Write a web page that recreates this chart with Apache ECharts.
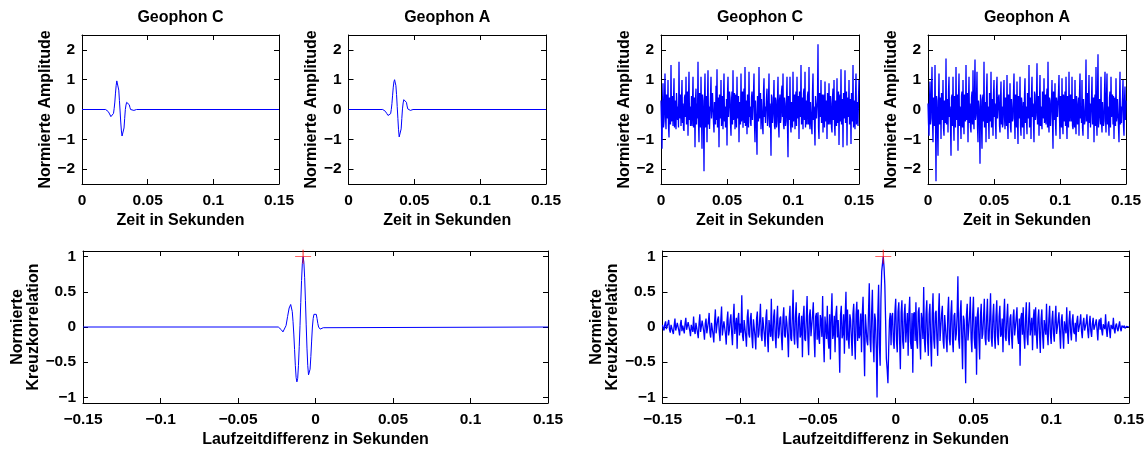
<!DOCTYPE html>
<html><head><meta charset="utf-8">
<script src="https://cdn.jsdelivr.net/npm/echarts@6/dist/echarts.min.js"></script>
<style>html,body{margin:0;padding:0;background:#fff}#c{width:1147px;height:451px}</style>
</head><body><div id="c"></div>
<script>
// ---------- data ----------
const titles = ['Geophon C', 'Geophon A', 'Geophon C', 'Geophon A'];
const timeName = 'Zeit in Sekunden';
const ampName = 'Normierte Amplitude';
const lagName = 'Laufzeitdifferenz in Sekunden';
const corrName = 'Normierte\nKreuzkorrelation';
const timeTicks = [0, 0.05, 0.1, 0.15];
const ampTicks = [-2, -1, 0, 1, 2];
const lagTicks = [-0.15, -0.1, -0.05, 0, 0.05, 0.1, 0.15];
const corrTicks = [-1, -0.5, 0, 0.5, 1];

// clean wavelets [time s, amplitude]
const cleanC = [[0,0],[0.018,0],[0.019,-0.02],[0.020,-0.07],[0.021,-0.15],[0.022,-0.24],[0.0228,-0.28],[0.0235,-0.24],[0.024,-0.13],[0.0245,0.04],[0.025,0.25],[0.0255,0.55],[0.026,0.8],[0.0265,0.96],[0.027,1.0],[0.0275,0.9],[0.028,0.65],[0.0285,0.3],[0.029,-0.05],[0.0295,-0.42],[0.030,-0.72],[0.0305,-0.89],[0.031,-0.92],[0.0315,-0.84],[0.032,-0.62],[0.0325,-0.3],[0.033,0.0],[0.0335,0.15],[0.034,0.24],[0.035,0.27],[0.0355,0.24],[0.036,0.16],[0.0365,0.07],[0.037,0.0],[0.0375,-0.03],[0.0385,-0.04],[0.0395,-0.03],[0.0405,-0.01],[0.0415,0],[0.15,0]];
const cleanA = [[0,0],[0.026,0],[0.027,-0.02],[0.028,-0.06],[0.029,-0.13],[0.030,-0.2],[0.031,-0.24],[0.0315,-0.22],[0.032,-0.14],[0.0325,0.0],[0.033,0.2],[0.0335,0.48],[0.034,0.75],[0.0345,0.93],[0.035,1.0],[0.0355,0.97],[0.036,0.8],[0.0365,0.5],[0.037,0.1],[0.0375,-0.3],[0.038,-0.68],[0.0385,-0.92],[0.039,-0.98],[0.0395,-0.9],[0.040,-0.65],[0.0405,-0.3],[0.041,0.02],[0.0415,0.22],[0.042,0.33],[0.043,0.37],[0.0435,0.33],[0.044,0.24],[0.0445,0.12],[0.045,0.02],[0.0455,-0.03],[0.046,-0.04],[0.047,-0.03],[0.048,-0.01],[0.049,0],[0.15,0]];
// clean cross-correlation [lag s, value]
const cleanCorr = [[-0.15,0],[-0.024,0],[-0.023,-0.01],[-0.022,-0.04],[-0.021,-0.07],[-0.0205,-0.08],[-0.020,-0.07],[-0.019,0.02],[-0.018,0.15],[-0.017,0.27],[-0.016,0.32],[-0.0155,0.3],[-0.015,0.22],[-0.0145,0.08],[-0.014,-0.1],[-0.0135,-0.32],[-0.013,-0.55],[-0.0125,-0.72],[-0.012,-0.78],[-0.0115,-0.73],[-0.011,-0.55],[-0.0105,-0.28],[-0.010,0.02],[-0.0095,0.35],[-0.009,0.66],[-0.0085,0.9],[-0.008,1.0],[-0.0075,0.92],[-0.007,0.7],[-0.0065,0.38],[-0.006,0.03],[-0.0055,-0.3],[-0.005,-0.55],[-0.0045,-0.68],[-0.004,-0.69],[-0.0035,-0.6],[-0.003,-0.42],[-0.0025,-0.2],[-0.002,0.0],[-0.0015,0.12],[-0.001,0.18],[0.0,0.2],[0.0005,0.18],[0.001,0.12],[0.0015,0.05],[0.002,0.0],[0.003,-0.03],[0.004,-0.03],[0.005,-0.01],[0.006,0],[0.15,0]];

// noisy signals, evenly sampled over 0 .. 0.15 s
const noisyC = [0.3,-0.45,-1.32,0.2,0.88,-0.6,-0.4,0.35,1.21,-0.25,-0.66,0.5,0.5,-0.3,0.99,-0.55,-0.94,0.4,0.2,-0.5,
1.49,-0.4,-0.3,0.45,-0.55,0.25,1.05,-0.6,-0.2,0.3,-0.66,0.55,0.6,-0.35,0.1,-0.6,1.6,-0.2,-0.3,0.5,
-0.55,0.3,0.99,-0.45,0.2,-0.65,-0.72,0.4,0.5,-0.25,1.1,-0.5,-0.4,0.6,-0.88,0.3,1.27,-0.35,0.1,-0.55,
-0.3,0.45,-0.55,0.2,1.1,-0.6,-0.2,0.4,-1.27,0.35,0.7,-0.5,0.2,-0.3,1.6,-0.45,-1.1,0.55,0.4,-0.6,
1.1,-0.25,-1.32,0.5,0.3,-0.4,-2.07,0.35,1.21,-0.6,-0.3,0.45,-1.1,0.3,1.32,-0.5,0.1,-0.65,-0.66,0.4,
1.1,-0.3,-0.3,0.55,0.6,-0.45,-0.77,0.25,0.3,-0.5,0.8,-0.35,1.35,-0.6,-0.4,0.4,-1.27,0.5,0.5,-0.3,
0.99,-0.55,-0.2,0.45,-0.66,0.3,1.21,-0.4,0.1,-0.6,-0.5,0.35,-1.21,0.5,1.1,-0.25,-0.3,0.6,0.4,-0.45,
-0.88,0.3,0.6,-0.5,1.32,-0.35,-0.3,0.55,-0.66,0.4,0.5,-0.6,1.1,-0.3,-0.2,0.45,-1.1,0.25,0.3,-0.5,
1.21,-0.4,-0.4,0.6,-0.61,0.35,0.7,-0.45,1.43,-0.55,-0.2,0.3,-0.83,0.5,0.4,-0.6,1.27,-0.25,0.1,-0.45,
-0.55,0.4,0.6,-0.35,-0.3,0.55,1.21,-0.5,-1.1,0.3,0.3,-0.6,-1.52,0.45,0.5,-0.4,1.43,-0.3,-0.2,0.55,
-0.66,0.35,0.4,-0.5,-0.83,0.6,1.05,-0.25,0.1,-0.45,-0.5,0.4,0.7,-0.55,-0.3,0.3,1.21,-0.6,0.2,-0.35,
-1.55,0.5,0.4,-0.45,-0.2,0.25,0.99,-0.55,-0.66,0.4,0.3,-0.6,-0.4,0.35,1.1,-0.5,-0.94,0.3,0.5,-0.45,
-0.3,0.6,0.8,-0.25,1.21,-0.5,-0.66,0.4,0.2,-0.55,-0.4,0.3,1.1,-0.6,-1.6,0.45,0.3,-0.35,1.1,-0.5,
-0.77,0.25,0.1,-0.6,1.27,-0.4,-0.4,0.5,-0.66,0.35,0.6,-0.55,1.1,-0.3,-0.2,0.45,-0.99,0.6,0.4,-0.25,
1.49,-0.5,-0.3,0.4,-0.66,0.55,0.7,-0.35,1.27,-0.6,-0.2,0.3,-0.5,0.45,0.6,-0.5,1.43,-0.4,-0.66,0.25,
0.3,-0.55,-0.83,0.6,1.21,-0.35,0.1,-0.5,-1.21,0.45,0.5,-0.3,-0.3,0.4,2.19,-0.6,-0.99,0.55,0.4,-0.25,
0.99,-0.45,-0.3,0.5,-0.77,0.35,0.5,-0.6,0.94,-0.4,-0.2,0.3,-0.99,0.55,0.3,-0.5,0.88,-0.25,-0.5,0.45,
0.2,-0.6,-0.77,0.4,0.7,-0.35,0.99,-0.5,-0.88,0.3,0.3,-0.55,1.05,-0.45,-0.3,0.6,-1.19,0.25,0.5,-0.4,
1.35,-0.5,-0.2,0.35,-1.27,0.55,0.6,-0.3,1.32,-0.45,-0.4,0.6,-1.21,0.4,0.3,-0.25,0.99,-0.5,-0.2,0.35,
-1.16,0.55,0.5,-0.4,1.49,-0.6,-0.3,0.3,-0.66,0.45,1.21,-0.5,-0.2,0.25,-0.55,0.4,0.99];
const noisyA = [0.2,-0.45,-0.88,0.3,0.94,-0.5,-0.3,0.6,1.43,-0.35,-1.1,0.4,0.4,-0.55,1.49,-0.3,-2.41,0.45,0.3,-0.6,
-1.55,0.25,1.21,-0.5,-0.3,0.4,-0.99,0.55,0.5,-0.35,0.99,-0.6,-0.88,0.3,0.2,-0.45,1.71,-0.5,-0.4,0.35,
-0.77,0.6,1.1,-0.25,0.1,-0.5,-1.55,0.4,0.5,-0.55,1.1,-0.3,-1.05,0.45,0.3,-0.6,1.43,-0.35,-0.2,0.5,
-1.38,0.4,1.21,-0.55,0.1,-0.3,-0.99,0.45,0.6,-0.6,0.99,-0.25,-0.83,0.5,0.3,-0.4,1.49,-0.35,-0.2,0.55,
-1.1,0.3,1.1,-0.45,0.2,-0.6,-0.77,0.4,0.6,-0.5,1.32,-0.25,-0.66,0.55,1.68,-0.35,-0.2,0.4,1.27,-0.6,
-1.1,0.3,0.1,-0.45,-1.82,0.5,0.3,-0.55,-1.32,0.35,0.5,-0.4,1.6,-0.6,-0.2,0.25,-1.1,0.5,1.21,-0.45,
0.1,-0.3,-0.99,0.55,0.6,-0.4,1.27,-0.6,-0.3,0.35,-0.88,0.5,0.99,-0.25,0.2,-0.45,-0.99,0.6,1.1,-0.3,
-0.3,0.4,0.5,-0.55,-0.77,0.35,0.94,-0.5,0.1,-0.6,-0.5,0.45,0.99,-0.25,-0.66,0.4,0.3,-0.55,1.16,-0.3,
-0.99,0.5,0.2,-0.45,0.88,-0.6,-0.77,0.35,0.4,-0.4,-0.3,0.55,1.21,-0.25,-0.99,0.5,0.3,-0.6,0.94,-0.35,
-1.16,0.45,0.5,-0.3,1.1,-0.55,-0.88,0.4,0.2,-0.6,-0.4,0.25,-0.99,0.5,1.05,-0.45,0.1,-0.35,-0.83,0.55,
0.6,-0.3,1.49,-0.6,-0.3,0.4,-0.99,0.5,1.1,-0.25,0.2,-0.45,-1.1,0.6,0.5,-0.35,-0.2,0.3,1.55,-0.5,
-0.4,0.45,-0.88,0.25,1.16,-0.55,0.1,-0.4,-0.66,0.6,0.5,-0.3,1.05,-0.45,-0.3,0.5,-0.5,0.35,0.7,-0.6,
1.6,-0.25,-0.77,0.4,0.3,-0.55,-0.5,0.3,0.99,-0.45,-1.32,0.6,0.4,-0.35,0.88,-0.5,-0.88,0.4,0.2,-0.25,
-0.3,0.55,1.16,-0.3,-0.99,0.45,0.3,-0.6,1.05,-0.35,-0.83,0.5,0.2,-0.4,0.6,-0.55,1.1,-0.25,-0.99,0.45,
0.3,-0.6,1.27,-0.3,-0.4,0.5,0.1,-0.4,1.1,-0.55,-0.66,0.35,0.4,-0.6,0.99,-0.25,-0.83,0.45,0.2,-0.5,
-0.3,0.4,-0.88,0.55,1.21,-0.3,0.1,-0.45,0.99,-0.6,-0.88,0.35,0.3,-0.5,-0.4,0.25,1.68,-0.4,-0.3,0.55,
-0.99,0.3,1.16,-0.45,0.2,-0.6,-0.66,0.35,1.1,-0.5,-0.3,0.4,-1.1,0.25,0.5,-0.55,1.43,-0.3,-0.88,0.45,
1.85,-0.6,-0.2,0.35,0.4,-0.5,1.1,-0.4,-0.77,0.25,0.3,-0.55,-0.4,0.6,1.27,-0.3,-0.77,0.45,1.21,-0.5,
0.1,-0.35,-0.88,0.4,0.6,-0.6,1.1,-0.25,-0.3,0.5,-0.5,0.45,-0.99,0.3,0.4,-0.55,1.05,-0.4,-0.2,0.35,
0.3,-0.6,-1.1,0.25,1.27,-0.5,0.1,-0.45,-0.5,0.4,0.99,-0.55,-0.88,0.3,0.77,-0.35,0.3];
// noisy cross-correlation, evenly sampled over -0.15 .. 0.15 s
const noisyCorr = [0.03,-0.02,-0.05,0.04,0.08,-0.03,-0.02,0.05,0.1,-0.04,-0.08,0.03,0.05,-0.06,-0.1,0.02,0.12,-0.05,-0.04,0.06,
0.06,-0.05,-0.12,0.04,0.1,-0.06,0.02,-0.03,-0.09,0.05,0.13,-0.04,-0.06,0.07,0.08,-0.05,-0.13,0.03,0.05,-0.07,
0.15,-0.05,-0.1,0.06,0.04,-0.08,-0.16,0.05,0.18,-0.07,-0.05,0.09,0.1,-0.06,-0.18,0.05,0.12,-0.09,-0.08,0.07,
0.2,-0.08,-0.15,0.06,0.08,-0.1,-0.22,0.07,0.25,-0.09,-0.1,0.11,0.15,-0.07,-0.2,0.1,0.29,-0.12,-0.12,0.08,
0.1,-0.1,-0.25,0.09,0.22,-0.12,-0.05,0.1,0.18,-0.09,-0.26,0.12,0.33,-0.1,-0.1,0.13,-0.31,0.11,0.2,-0.12,
0.05,-0.08,0.45,-0.13,-0.2,0.1,0.1,-0.12,-0.28,0.14,0.25,-0.1,-0.15,0.12,0.2,-0.14,-0.3,0.11,0.12,-0.13,
-0.32,0.12,0.22,-0.15,-0.1,0.1,0.33,-0.12,-0.2,0.14,0.15,-0.11,-0.28,0.13,0.25,-0.15,-0.36,0.1,0.1,-0.14,
0.4,-0.12,-0.2,0.15,0.25,-0.13,-0.3,0.11,0.3,-0.16,-0.1,0.12,0.15,-0.14,-0.33,0.13,0.28,-0.12,-0.15,0.16,
0.06,-0.13,-0.43,0.12,0.3,-0.16,-0.2,0.14,0.53,-0.12,-0.25,0.15,0.35,-0.17,-0.3,0.13,0.2,-0.15,-0.1,0.16,
-0.43,0.14,0.3,-0.17,-0.2,0.12,0.44,-0.15,-0.4,0.16,0.25,-0.13,-0.15,0.17,0.35,-0.14,-0.43,0.15,0.2,-0.18,
0.21,-0.15,-0.24,0.17,0.1,-0.14,0.44,-0.18,-0.5,0.15,0.15,-0.17,0.3,-0.16,-0.31,0.18,-0.46,0.14,0.48,-0.17,
-0.1,0.16,-0.36,0.18,0.3,-0.15,0.1,-0.19,-0.65,0.17,0.3,-0.16,-0.1,0.18,-0.38,0.15,0.5,-0.19,0.25,-0.17,
-0.31,0.18,0.1,-0.16,-0.41,0.19,0.33,-0.17,-0.46,0.18,0.36,-0.2,0.25,-0.16,-0.1,0.19,-0.36,0.17,0.43,-0.2,
-0.7,0.18,0.18,-0.2,-0.26,0.21,0.62,-0.18,-0.36,0.2,0.53,-0.22,-0.5,0.19,0.1,-0.3,-1.0,0.2,0.6,-0.25,
-0.55,0.4,0.79,0.9,1.0,0.85,0.6,0.1,-0.45,-0.6,-0.8,-0.3,0.1,0.2,-0.26,0.15,0.2,-0.2,-0.31,0.22,
0.4,-0.2,-0.36,0.22,0.35,-0.19,-0.6,0.21,0.38,-0.2,-0.31,0.18,0.33,-0.22,-0.2,0.2,-0.41,0.19,0.43,-0.21,
-0.31,0.2,-0.65,0.18,0.21,-0.2,0.35,-0.19,-0.31,0.21,0.28,-0.18,-0.46,0.2,0.1,-0.17,0.57,-0.21,-0.36,0.19,
0.38,-0.2,-0.41,0.18,0.33,-0.21,-0.56,0.19,0.48,-0.18,-0.31,0.2,0.23,-0.17,-0.41,0.19,0.48,-0.2,-0.21,0.18,
0.3,-0.19,-0.31,0.17,0.18,-0.18,-0.36,0.2,0.43,-0.17,-0.26,0.19,0.38,-0.18,-0.36,0.16,0.2,-0.19,-0.1,0.17,
0.72,-0.18,-0.31,0.19,0.38,-0.17,-0.6,0.16,0.1,-0.18,-0.8,0.17,0.33,-0.19,-0.2,0.16,0.43,-0.17,-0.36,0.18,
0.43,-0.16,-0.31,0.15,-0.68,0.17,0.28,-0.15,-0.46,0.16,0.33,-0.17,-0.1,0.14,0.4,-0.16,-0.26,0.15,0.4,-0.17,
-0.21,0.14,0.48,-0.16,-0.28,0.15,0.33,-0.14,-0.31,0.16,0.38,-0.13,-0.26,0.15,0.3,-0.14,-0.1,0.12,-0.36,0.15,
0.4,-0.14,-0.2,0.13,0.33,-0.15,-0.26,0.12,0.18,-0.13,-0.31,0.14,0.25,-0.12,-0.1,0.13,0.28,-0.14,-0.24,0.12,
-0.55,0.13,0.2,-0.11,0.28,-0.13,-0.31,0.12,0.35,-0.14,-0.26,0.11,0.35,-0.12,-0.1,0.13,-0.33,0.11,0.25,-0.12,
0.28,-0.11,-0.31,0.12,0.25,-0.1,-0.37,0.11,0.25,-0.12,-0.31,0.1,0.1,-0.11,0.33,-0.1,-0.26,0.11,0.3,-0.1,
-0.24,0.1,0.23,-0.09,-0.21,0.1,0.3,-0.1,-0.1,0.09,0.21,-0.08,-0.31,0.09,0.18,-0.1,-0.31,0.08,0.1,-0.09,
0.28,-0.08,-0.24,0.09,0.23,-0.07,-0.19,0.08,0.18,-0.07,-0.1,0.06,-0.21,0.08,0.16,-0.07,-0.05,0.06,0.18,-0.06,
-0.16,0.06,0.13,-0.05,-0.05,0.06,0.18,-0.05,-0.16,0.05,0.16,-0.06,-0.14,0.05,0.13,-0.04,-0.05,0.05,0.11,-0.04,
-0.19,0.05,0.11,-0.04,0.13,-0.05,-0.12,0.04,0.05,-0.03,0.18,-0.04,-0.14,0.03,0.08,-0.04,-0.16,0.03,0.04,-0.03,
0.13,-0.03,-0.09,0.02,0.05,-0.03,-0.06,0.02,0.08,-0.02,-0.06,0.02,0.03,-0.01,0.02,-0.02,-0.03,0.01,0.01,0.0,
0.0];
// maximum of the cross-correlation [lag s, value]
const peakClean = [[-0.008, 1]];
const peakNoisy = [[-0.008, 1]];

// ---------- chart ----------
const FONT = "'Liberation Sans', Arial, Helvetica, sans-serif";
const txt = { color: '#000', fontWeight: 'bold', fontFamily: FONT };
const fmt = v => (v < 0 ? '\u2212' : '') + String(Math.abs(Math.round(v * 1000) / 1000));
const even = (arr, a, b) => arr.map((v, i) => [a + (b - a) * i / (arr.length - 1), v]);

const panels = [
  { grid: { left: 82, top: 35, width: 197, height: 149 }, xr: [0, 0.15], xt: timeTicks, yr: [-2.5, 2.5], yt: ampTicks, title: titles[0], xn: timeName, yn: ampName, yGap: 27, data: cleanC, w: 1 },
  { grid: { left: 348.5, top: 35, width: 197.5, height: 149 }, xr: [0, 0.15], xt: timeTicks, yr: [-2.5, 2.5], yt: ampTicks, title: titles[1], xn: timeName, yn: ampName, yGap: 27, data: cleanA, w: 1 },
  { grid: { left: 661, top: 35, width: 198, height: 149 }, xr: [0, 0.15], xt: timeTicks, yr: [-2.5, 2.5], yt: ampTicks, title: titles[2], xn: timeName, yn: ampName, yGap: 27, data: even(noisyC, 0, 0.15), w: 1.3 },
  { grid: { left: 928, top: 35, width: 198, height: 149 }, xr: [0, 0.15], xt: timeTicks, yr: [-2.5, 2.5], yt: ampTicks, title: titles[3], xn: timeName, yn: ampName, yGap: 27, data: even(noisyA, 0, 0.15), w: 1.3 },
  { grid: { left: 83, top: 251, width: 465, height: 152 }, xr: [-0.15, 0.15], xt: lagTicks, yr: [-1.08, 1.08], yt: corrTicks, title: '', xn: lagName, yn: corrName, yGap: 40, data: cleanCorr, peak: peakClean, w: 1 },
  { grid: { left: 662.5, top: 251, width: 468, height: 152 }, xr: [-0.15, 0.15], xt: lagTicks, yr: [-1.08, 1.08], yt: corrTicks, title: '', xn: lagName, yn: corrName, yGap: 40, data: even(noisyCorr, -0.15, 0.15), peak: peakNoisy, w: 1.3 }
];

function axis(range, ticks, showLabel, margin) {
  return {
    type: 'value', min: range[0], max: range[1],
    axisLine: { show: true, onZero: false, lineStyle: { color: '#000', width: 1 } },
    axisTick: { show: true, inside: true, length: 5, customValues: ticks, lineStyle: { color: '#000', width: 1 } },
    axisLabel: { show: showLabel, customValues: ticks, formatter: fmt, margin: margin, fontSize: 15.5, ...txt },
    splitLine: { show: false }
  };
}

const grid = [], xAxis = [], yAxis = [], series = [];
panels.forEach((p, i) => {
  grid.push(p.grid);
  xAxis.push({ ...axis(p.xr, p.xt, true, 9), gridIndex: i, position: 'bottom',
    name: p.xn, nameLocation: 'middle', nameGap: 29, nameTextStyle: { ...txt, fontSize: 16 } });
  xAxis.push({ ...axis(p.xr, p.xt, false, 8), gridIndex: i, position: 'top',
    name: p.title, nameLocation: 'middle', nameGap: 9, nameTextStyle: { ...txt, fontSize: 16 } });
  yAxis.push({ ...axis(p.yr, p.yt, true, 7), gridIndex: i, position: 'left',
    name: p.yn, nameLocation: 'middle', nameGap: p.yGap, nameTextStyle: { ...txt, fontSize: 16, lineHeight: 16 } });
  yAxis.push({ ...axis(p.yr, p.yt, false, 7), gridIndex: i, position: 'right' });
  series.push({ type: 'line', xAxisIndex: 2 * i, yAxisIndex: 2 * i, data: p.data, showSymbol: false, symbol: 'none',
    sampling: null, lineStyle: { color: '#0000ff', width: p.w }, silent: true });
  if (p.peak) {
    series.push({ type: 'scatter', xAxisIndex: 2 * i, yAxisIndex: 2 * i, data: p.peak, clip: false, silent: true, z: 5,
      symbol: 'path://M0,7L16,7M8,0L8,14', symbolSize: [16, 14],
      itemStyle: { color: 'transparent', borderColor: '#ff0000', borderWidth: 1 } });
  }
});

const chart = echarts.init(document.getElementById('c'), null, { renderer: 'canvas' });
chart.setOption({ animation: false, backgroundColor: '#fff', grid, xAxis, yAxis, series });
</script></body></html>
